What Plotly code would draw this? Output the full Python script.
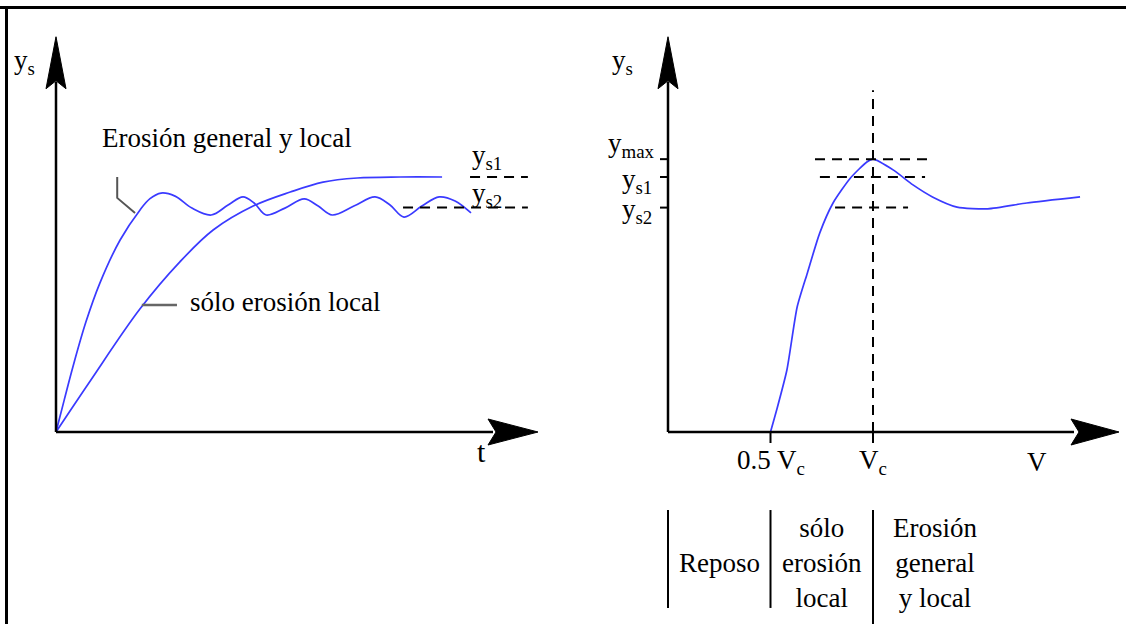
import plotly.graph_objects as go

# ---------------- data ----------------
# Left panel: scour depth ys versus time t (t in arbitrary units, ys normalised so that ys1 = 1)
t_general = [0, 0.17, 0.35, 0.62, 0.91, 1.33, 1.74, 1.95, 2.18, 2.47, 2.82, 3.22, 3.57, 3.88, 4.11,
             4.36, 4.75, 5.15, 5.44, 5.73, 6.18, 6.62, 6.93, 7.22, 7.59, 7.95, 8.28, 8.61]
ys_general = [0, 0.125, 0.255, 0.431, 0.584, 0.753, 0.870, 0.915, 0.937, 0.925, 0.878, 0.851, 0.890, 0.922, 0.898,
              0.851, 0.878, 0.914, 0.886, 0.851, 0.886, 0.922, 0.890, 0.843, 0.886, 0.922, 0.906, 0.859]
t_local = [0, 0.71, 1.74, 2.57, 3.26, 4.09, 4.86, 5.54, 6.25, 7.14, 8.01]
ys_local = [0, 0.200, 0.482, 0.667, 0.792, 0.886, 0.941, 0.980, 0.996, 1.0, 1.0]

# Right panel: scour depth ys versus velocity v (in units of Vc)
v_curve = [0.50, 0.53, 0.58, 0.63, 0.68, 0.74, 0.805, 0.89, 0.97, 1.0, 1.10, 1.195, 1.29, 1.41, 1.56, 1.75, 2.01]
ys_curve = [0, 0.086, 0.243, 0.49, 0.624, 0.78, 0.898, 0.996, 1.059, 1.07, 1.027, 0.969, 0.922, 0.882, 0.875, 0.898, 0.922]

ys1 = 1.0
ys2 = 0.88
ymax = 1.07
v_half = 0.5
v_crit = 1.0

y_levels = [ymax, ys1, ys2]
y_level_labels = ["y<sub>max</sub>", "y<sub>s1</sub>", "y<sub>s2</sub>"]
v_ticks = [v_half, v_crit]
v_tick_labels = ["0.5 V<sub>c</sub>", "V<sub>c</sub>"]
region_bounds = [0.0, 0.5, 1.0]
region_labels = ["Reposo", "sólo<br>erosión<br>local", "Erosión<br>general<br>y local"]
region_label_v = [0.25, 0.75, 1.30]

t_axis_end = 10.0
v_axis_end = 2.2
ys_axis_end = 1.55

# ---------------- layout geometry (pixels) ----------------
W_PX, H_PX = 1126, 624
OX_L, OX_R, OY = 56, 668, 432      # pixel position of the two origins
SX_L, SX_R, SY = 48.2, 205.0, 255.0  # pixels per data unit

BLUE = "#3a3aff"
FONT = "Liberation Serif, Times New Roman, serif"
FS = 27

fig = go.Figure()

# curves
fig.add_trace(go.Scatter(x=t_general, y=ys_general, mode="lines", xaxis="x", yaxis="y",
                         line=dict(color=BLUE, width=1.7, shape="spline", smoothing=1.0),
                         hoverinfo="skip", showlegend=False))
fig.add_trace(go.Scatter(x=t_local, y=ys_local, mode="lines", xaxis="x", yaxis="y",
                         line=dict(color=BLUE, width=1.7, shape="spline", smoothing=1.0),
                         hoverinfo="skip", showlegend=False))
fig.add_trace(go.Scatter(x=v_curve, y=ys_curve, mode="lines", xaxis="x2", yaxis="y",
                         line=dict(color=BLUE, width=1.7, shape="spline", smoothing=0.6),
                         hoverinfo="skip", showlegend=False))

shapes = []
annotations = []


def line(xref, x0, y0, x1, y1, color="black", width=2.5, dash=None):
    d = dict(type="line", xref=xref, yref="y", x0=x0, y0=y0, x1=x1, y1=y1,
             line=dict(color=color, width=width))
    if dash:
        d["line"]["dash"] = dash
    shapes.append(d)


def arrow(xref, tx, ty, sx, direction, L=50, W=13, N=8):
    if direction == "right":
        pts = [(tx, ty), (tx - L / sx, ty + W / SY), (tx - (L - N) / sx, ty), (tx - L / sx, ty - W / SY)]
    else:
        pts = [(tx, ty), (tx + W / sx, ty - L / SY), (tx, ty - (L - N) / SY), (tx - W / sx, ty - L / SY)]
    path = "M " + " L ".join(f"{x},{y}" for x, y in pts) + " Z"
    shapes.append(dict(type="path", xref=xref, yref="y", path=path,
                       fillcolor="black", line=dict(color="black", width=1)))


def text(xref, x, y, s, xanchor="center", size=FS):
    annotations.append(dict(xref=xref, yref="y", x=x, y=y, text=s, showarrow=False,
                            xanchor=xanchor, yanchor="middle", align="center",
                            font=dict(family=FONT, size=size, color="black")))


# frame (top and left border)
shapes.append(dict(type="line", xref="paper", yref="paper", x0=0, x1=1,
                   y0=1 - 7.5 / H_PX, y1=1 - 7.5 / H_PX, line=dict(color="black", width=3)))
shapes.append(dict(type="line", xref="paper", yref="paper", x0=6.5 / W_PX, x1=6.5 / W_PX,
                   y0=0, y1=1 - 6 / H_PX, line=dict(color="black", width=3)))

# ---- left panel axes ----
line("x", 0, 0, t_axis_end - 45 / SX_L, 0)
line("x", 0, 0, 0, ys_axis_end - 45 / SY)
arrow("x", t_axis_end, 0, SX_L, "right")
arrow("x", 0, ys_axis_end, SX_L, "up", L=52, W=10)

# dashed reference levels (left)
line("x", 8.59, ys1, 9.79, ys1, width=2, dash="10px,7px")
line("x", 7.20, ys2, 9.79, ys2, width=2, dash="10px,7px")

# leader lines
shapes.append(dict(type="path", xref="x", yref="y",
                   path="M 1.27,1.0 L 1.27,0.918 L 1.64,0.859",
                   line=dict(color="#555555", width=2)))
line("x", 1.78, 0.498, 2.51, 0.498, color="#666666", width=2.5)

text("x", -0.91, 1.451, "y<sub>s</sub>", xanchor="left")
text("x", 0.91, 1.153, "Erosión general y local", xanchor="left")
text("x", 2.74, 0.51, "sólo erosión local", xanchor="left")
text("x", 8.59, 1.08, "y<sub>s1</sub>", xanchor="left")
text("x", 8.59, 0.93, "y<sub>s2</sub>", xanchor="left")
text("x", 8.82, -0.078, "t", size=30)

# ---- right panel axes ----
line("x2", 0, 0, v_axis_end - 45 / SX_R, 0)
line("x2", 0, 0, 0, ys_axis_end - 45 / SY)
arrow("x2", v_axis_end, 0, SX_R, "right", L=48)
arrow("x2", 0, ys_axis_end, SX_R, "up", L=52, W=10)

# ticks on y axis and labels
for lvl in y_levels:
    line("x2", -8 / SX_R, lvl, 0, lvl, width=2)
text("x2", -0.055, 1.125, y_level_labels[0], xanchor="right")
text("x2", -0.07, 0.985, y_level_labels[1], xanchor="right")
text("x2", -0.07, 0.865, y_level_labels[2], xanchor="right")
text("x2", -0.283, 1.45, "y<sub>s</sub>", xanchor="left")

# ticks on v axis and labels
for v, lab in zip(v_ticks, v_tick_labels):
    line("x2", v, 0, v, -11 / SY, width=2)
    text("x2", v, -0.118, lab)
text("x2", 1.80, -0.118, "V")

# dashed reference lines (right)
line("x2", 0.717, ymax, 1.278, ymax, width=2, dash="10px,7px")
line("x2", 0.741, ys1, 1.254, ys1, width=2, dash="10px,7px")
line("x2", 0.815, ys2, 1.171, ys2, width=2, dash="10px,7px")
line("x2", v_crit, 0, v_crit, 1.34, width=2, dash="10px,7px")

# regime separators and labels
for i, b in enumerate(region_bounds):
    y_end = -0.69 if i < 2 else (OY - H_PX) / SY
    line("x2", b, -0.306, b, y_end, width=2)
for v, lab in zip(region_label_v, region_labels):
    text("x2", v, -0.515, lab)

fig.update_layout(
    width=W_PX, height=H_PX,
    margin=dict(l=0, r=0, t=0, b=0),
    paper_bgcolor="white", plot_bgcolor="white",
    xaxis=dict(domain=[0, 1], range=[-OX_L / SX_L, (W_PX - OX_L) / SX_L], visible=False, fixedrange=True),
    xaxis2=dict(overlaying="x", anchor="y", range=[-OX_R / SX_R, (W_PX - OX_R) / SX_R],
                visible=False, fixedrange=True),
    yaxis=dict(domain=[0, 1], range=[(OY - H_PX) / SY, OY / SY], visible=False, fixedrange=True),
    shapes=shapes,
    annotations=annotations,
    showlegend=False,
)

fig.write_html("out.html", config={"displayModeBar": False},
               post_script="document.body.style.margin='0';document.body.style.overflow='hidden';")
